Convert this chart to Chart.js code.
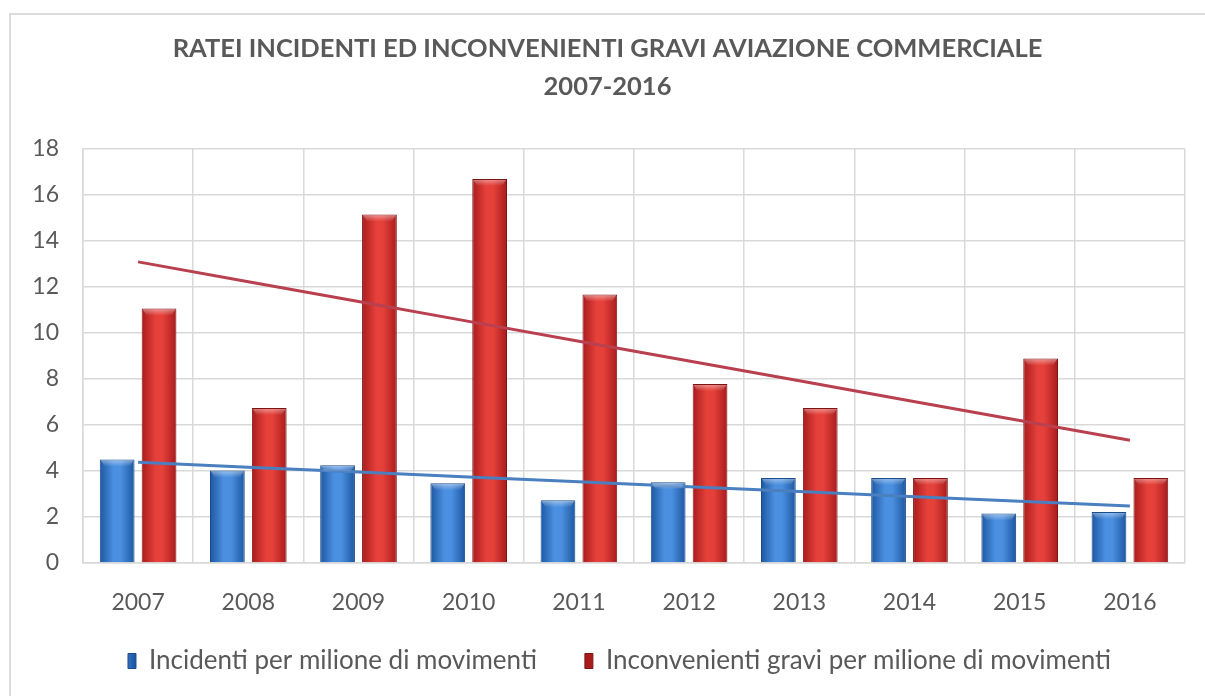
<!DOCTYPE html>
<html>
<head>
<meta charset="utf-8">
<script src="https://cdn.jsdelivr.net/npm/chart.js@4.4.1/dist/chart.umd.min.js"></script>
<style>
    html, body { margin: 0; padding: 0; background: #fff; overflow: hidden; }
    #frame {
        position: absolute; left: 9px; top: 13px; width: 1300px; height: 800px;
        border-left: 2px solid #dcdcdc; border-top: 2px solid #dcdcdc;
    }
    #wrap { position: absolute; left: 0; top: 0; width: 1205px; height: 696px; }
</style>
</head>
<body>
<div id="frame"></div>
<div id="wrap"><canvas id="chart-rates"></canvas></div>
<script>
// Rates per million movements, commercial aviation
var years = ['2007', '2008', '2009', '2010', '2011', '2012', '2013', '2014', '2015', '2016'];
var incidenti = [4.50, 4.02, 4.25, 3.47, 2.73, 3.51, 3.70, 3.70, 2.15, 2.22];
var inconvenienti = [11.06, 6.74, 15.15, 16.70, 11.67, 7.78, 6.74, 3.70, 8.89, 3.70];
var yTicks = [0, 2, 4, 6, 8, 10, 12, 14, 16, 18];

var catPct = 0.76;
var barPct = 0.83;
var textGrey = '#595959';
var gridGrey = '#d9d9d9';

// linear trend (least squares) over the category index
function trend(values) {
    var n = values.length, sx = 0, sy = 0, sxy = 0, sxx = 0;
    values.forEach(function (v, i) { sx += i; sy += v; sxy += i * v; sxx += i * i; });
    var slope = (n * sxy - sx * sy) / (n * sxx - sx * sx);
    var icpt = (sy - slope * sx) / n;
    return values.map(function (v, i) { return icpt + slope * i; });
}

// cylinder-like shading across each bar (dataset 0 sits left, dataset 1 right)
function barFill(base, dark, light) {
    return function (ctx) {
        if (ctx.type !== 'data') return base;
        var chart = ctx.chart;
        var xs = chart.scales.x;
        if (!xs || !chart.chartArea) return base;
        var cw = xs.width / years.length;
        var slot = cw * catPct / 2;
        var c = xs.getPixelForValue(ctx.dataIndex) + (ctx.datasetIndex === 0 ? -slot / 2 : slot / 2);
        var w = slot * barPct;
        var g = chart.ctx.createLinearGradient(c - w / 2, 0, c + w / 2, 0);
        g.addColorStop(0, dark);
        g.addColorStop(0.4, light);
        g.addColorStop(0.6, light);
        g.addColorStop(1, dark);
        return g;
    };
}

// light bevel on the top of every bar
var barBevel = {
    id: 'barBevel',
    afterDatasetsDraw: function (chart) {
        var c = chart.ctx;
        [0, 1].forEach(function (di) {
            chart.getDatasetMeta(di).data.forEach(function (bar) {
                var l = bar.x - bar.width / 2, h = 7;
                var g = c.createLinearGradient(0, bar.y, 0, bar.y + h);
                g.addColorStop(0, 'rgba(255,255,255,0.45)');
                g.addColorStop(1, 'rgba(255,255,255,0)');
                c.save();
                c.fillStyle = g;
                c.beginPath();
                c.moveTo(l + 1, bar.y + 1);
                c.lineTo(l + bar.width - 1, bar.y + 1);
                c.lineTo(l + bar.width - 5, bar.y + h);
                c.lineTo(l + 5, bar.y + h);
                c.closePath();
                c.fill();
                c.restore();
            });
        });
    }
};

// legend sits closer to the axis labels; legend and title nudged right
var LEGEND_TRIM = 13;
var shiftBlocks = {
    id: 'shiftBlocks',
    afterInit: function (chart) {
        var legend = chart.legend;
        var fit = legend.fit;
        legend.fit = function () {
            fit.call(this);
            this.height -= LEGEND_TRIM;
        };
    },
    afterLayout: function (chart) {
        var legend = chart.legend;
        legend.left += 21;
        legend.right += 21;
        legend.top -= LEGEND_TRIM;
        legend.height += LEGEND_TRIM;
        chart.titleBlock.left += 9;
        chart.titleBlock.right += 9;
    }
};

Chart.defaults.font.family = 'Lato, "Open Sans", sans-serif';
Chart.defaults.color = textGrey;

new Chart(document.getElementById('chart-rates'), {
    data: {
        labels: years,
        datasets: [{
            type: 'bar',
            label: 'Incidenti per milione di movimenti',
            data: incidenti,
            backgroundColor: barFill('#2f6fc0', '#1d57a2', '#4b90e0'),
            borderColor: '#1b4c8c',
            borderWidth: 1,
            categoryPercentage: catPct,
            barPercentage: barPct,
            order: 2
        }, {
            type: 'bar',
            label: 'Inconvenienti gravi per milione di movimenti',
            data: inconvenienti,
            backgroundColor: barFill('#d02c2c', '#a81c1c', '#e5403a'),
            borderColor: '#7d1414',
            borderWidth: 1,
            categoryPercentage: catPct,
            barPercentage: barPct,
            order: 3
        }, {
            type: 'line',
            label: 'trend-incidenti',
            data: trend(incidenti),
            borderColor: '#4a7fc0',
            borderWidth: 3,
            pointRadius: 0,
            fill: false,
            order: 1
        }, {
            type: 'line',
            label: 'trend-inconvenienti',
            data: trend(inconvenienti),
            borderColor: '#b8404f',
            borderWidth: 3,
            pointRadius: 0,
            fill: false,
            order: 0
        }]
    },
    plugins: [barBevel, shiftBlocks],
    options: {
        responsive: true,
        maintainAspectRatio: false,
        animation: false,
        layout: { padding: { top: 20, left: 12, right: 20, bottom: 12 } },
        plugins: {
            title: {
                display: true,
                text: ['RATEI INCIDENTI ED INCONVENIENTI GRAVI AVIAZIONE COMMERCIALE', '2007-2016'],
                color: textGrey,
                font: { size: 25.5, weight: 'bold', lineHeight: 1.49 },
                padding: { top: 10, bottom: 43 }
            },
            legend: {
                position: 'bottom',
                labels: {
                    filter: function (item) { return item.text.indexOf('trend') !== 0; },
                    boxWidth: 8,
                    boxHeight: 15,
                    padding: 48,
                    color: textGrey,
                    font: { size: 26 }
                }
            },
            tooltip: { enabled: false }
        },
        scales: {
            x: {
                grid: { color: gridGrey, lineWidth: 1.5, offset: true, drawTicks: false },
                border: { color: gridGrey, width: 1.5 },
                ticks: { padding: 26, font: { size: 23 }, color: textGrey },
                afterFit: function (s) { s.height = 50; }
            },
            y: {
                min: 0,
                max: 18,
                afterBuildTicks: function (s) { s.ticks = yTicks.map(function (v) { return { value: v }; }); },
                grid: { color: gridGrey, lineWidth: 1.5, drawTicks: false },
                border: { color: gridGrey, width: 1.5 },
                ticks: { padding: 24, font: { size: 23 }, color: textGrey },
                afterFit: function (s) { s.width = 71; }
            }
        }
    }
});
</script>
</body>
</html>
